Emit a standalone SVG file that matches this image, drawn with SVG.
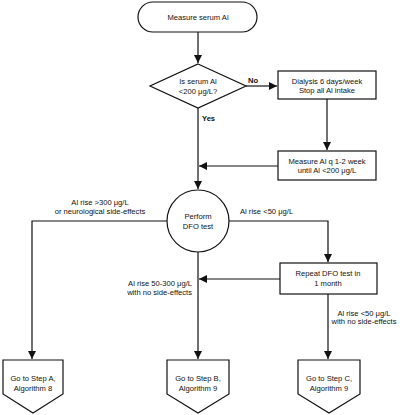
<svg xmlns="http://www.w3.org/2000/svg" width="400" height="415" viewBox="0 0 400 415">
<defs>
<marker id="ah" viewBox="0 0 10 10" refX="10" refY="5" markerWidth="8" markerHeight="8" markerUnits="userSpaceOnUse" orient="auto">
<path d="M0,0 L10,5 L0,10 Z" fill="#111"/>
</marker>
<style>
.s{fill:#fff;stroke:#111;stroke-width:1.2}
.t{font-family:"Liberation Sans",Arial,sans-serif;font-size:7.6px;fill:#111;text-anchor:middle}
.b{font-weight:bold;text-anchor:start}
.c{fill:none;stroke:#111;stroke-width:1.2}
</style>
</defs>
<rect width="400" height="415" fill="#fff"/>
<g id="connectors">
<path class="c" d="M198,32 V63" marker-end="url(#ah)"/>
<path class="c" d="M246,86 H277" marker-end="url(#ah)"/>
<path class="c" d="M327,99 V150" marker-end="url(#ah)"/>
<path class="c" d="M198,108 V189" marker-end="url(#ah)"/>
<path class="c" d="M278,166 H199" marker-end="url(#ah)"/>
<path class="c" d="M167,221 H32 V359" marker-end="url(#ah)"/>
<path class="c" d="M229,221 H328 V262" marker-end="url(#ah)"/>
<path class="c" d="M198,252 V359" marker-end="url(#ah)"/>
<path class="c" d="M280,279 H199" marker-end="url(#ah)"/>
<path class="c" d="M328,294 V359" marker-end="url(#ah)"/>
<text class="t b" x="248" y="83">No</text>
<text class="t b" x="202" y="121">Yes</text>
<text class="t" x="100" y="205">Al rise &gt;300 μg/L</text>
<text class="t" x="100" y="214">or neurological side-effects</text>
<text class="t" x="240" y="214" style="text-anchor:start">Al rise &lt;50 μg/L</text>
<text class="t" x="192" y="286" style="text-anchor:end">Al rise 50-300 μg/L</text>
<text class="t" x="192" y="295" style="text-anchor:end">with no side-effects</text>
<text class="t" x="364" y="316">Al rise &lt;50 μg/L</text>
<text class="t" x="364" y="324">with no side-effects</text>
</g>
<g id="start">
<rect class="s" x="138" y="2" width="119" height="30" rx="15" ry="15"/>
<text class="t" x="198" y="20">Measure serum Al</text>
</g>
<g id="decision">
<path class="s" d="M198,64 L246,86 L198,108 L150,86 Z"/>
<text class="t" x="198" y="84">Is serum Al</text>
<text class="t" x="198" y="94">&lt;200 μg/L?</text>
</g>
<g id="dialysis">
<rect class="s" x="278" y="71" width="98" height="28"/>
<text class="t" x="327" y="84">Dialysis 6 days/week</text>
<text class="t" x="327" y="93">Stop all Al intake</text>
</g>
<g id="measure">
<rect class="s" x="278" y="151" width="98" height="29"/>
<text class="t" x="327" y="164">Measure Al q 1-2 week</text>
<text class="t" x="327" y="173">until Al &lt;200 μg/L</text>
</g>
<g id="dfo">
<circle class="s" cx="198" cy="221" r="31"/>
<text class="t" x="198" y="219">Perform</text>
<text class="t" x="198" y="229">DFO test</text>
</g>
<g id="repeat">
<rect class="s" x="280" y="263" width="97" height="31"/>
<text class="t" x="328" y="276">Repeat DFO test in</text>
<text class="t" x="328" y="286">1 month</text>
</g>
<g id="stepA">
<path class="s" d="M3,360 H63 V394 L33,413 L3,394 Z"/>
<text class="t" x="33" y="381">Go to Step A,</text>
<text class="t" x="33" y="391">Algorithm 8</text>
</g>
<g id="stepB">
<path class="s" d="M167,360 H229 V394 L198,413 L167,394 Z"/>
<text class="t" x="198" y="381">Go to Step B,</text>
<text class="t" x="198" y="391">Algorithm 9</text>
</g>
<g id="stepC">
<path class="s" d="M298,360 H360 V394 L329,413 L298,394 Z"/>
<text class="t" x="329" y="381">Go to Step C,</text>
<text class="t" x="329" y="391">Algorithm 9</text>
</g>
</svg>
